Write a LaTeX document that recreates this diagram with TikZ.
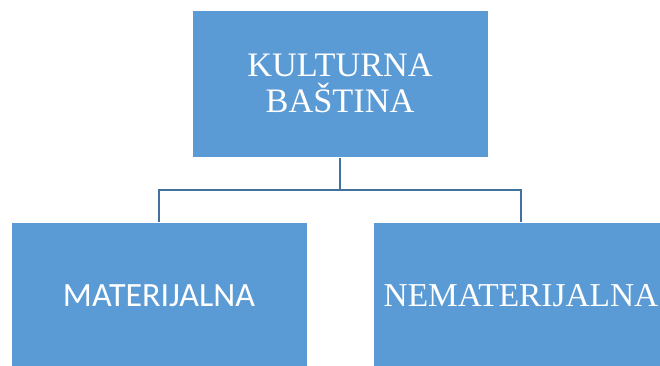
\documentclass[tikz,border=0pt]{standalone}
\usepackage{fontspec}
\setmainfont{Liberation Serif}
\newfontfamily\calibrifont{Carlito}
\usepackage{tikz}
\definecolor{boxblue}{HTML}{5B9BD5}
\definecolor{lineblue}{HTML}{41719C}
\tikzset{
  heritagebox/.style={rectangle, fill=boxblue, draw=white, line width=1pt,
    minimum width=296pt, minimum height=147pt, text=white, align=center,
    inner sep=0pt, font=\fontsize{34.3}{35.5}\selectfont},
  branchline/.style={draw=lineblue, line width=2.2pt}
}

\begin{document}
\begin{tikzpicture}[x=1pt, y=-1pt]
            \useasboundingbox (0,0) rectangle (660,365);

            \node[heritagebox] (kultura) at (340,83.5) {KULTURNA\\BAŠTINA};
            \node[heritagebox, font=\calibrifont\fontsize{34}{35}\selectfont] (materijalna) at (159,295.5) {MATERIJALNA};
            \node[heritagebox, font=\fontsize{33.4}{35}\selectfont] (nematerijalna) at (521,295.5) {NEMATERIJALNA};

            \coordinate (split) at (340,190);
            \draw[branchline] (kultura.south) -- (split);
            \draw[branchline] (split) -| (materijalna.north);
            \draw[branchline] (split) -| (nematerijalna.north);

        \end{tikzpicture}
\end{document}
